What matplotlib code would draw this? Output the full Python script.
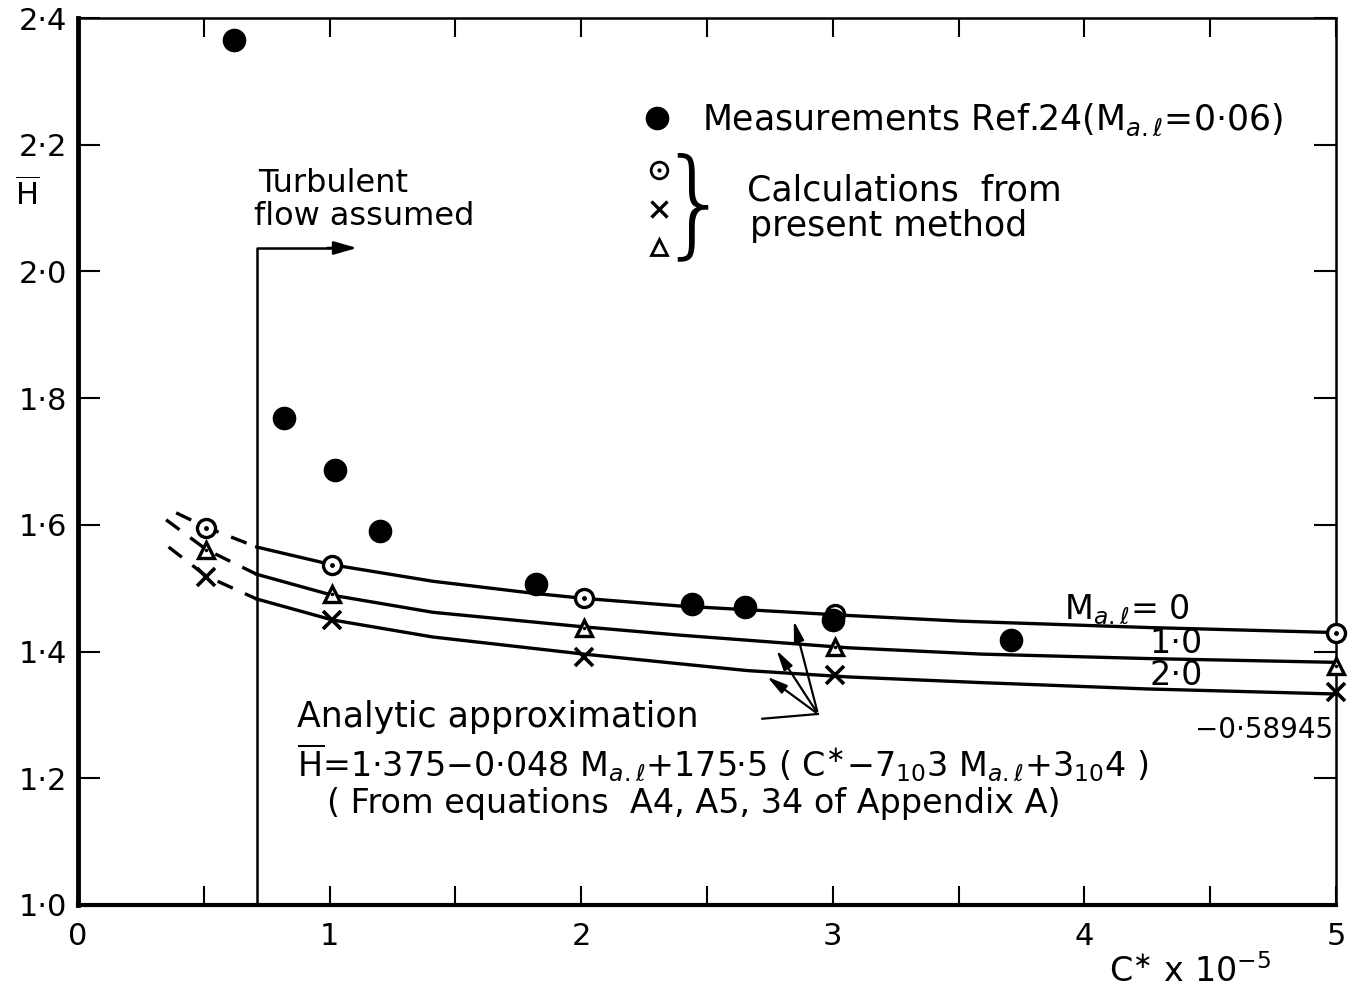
import numpy as np
import matplotlib.pyplot as plt

plt.rcParams['font.family'] = ['DejaVu Sans']
plt.rcParams['mathtext.fontset'] = 'dejavusans'

# measurements, Ref. 24
meas_c = [0.62, 0.82, 1.02, 1.20, 1.82, 2.44, 2.65, 3.00, 3.71]
meas_h = [2.365, 1.769, 1.687, 1.590, 1.507, 1.475, 1.470, 1.450, 1.418]

# calculated points (present method)
calc_c = [0.51, 1.01, 2.01, 3.01, 5.0]
calc_h0 = [1.595, 1.537, 1.485, 1.460, 1.430]   # Ma.l = 0
calc_h1 = [1.561, 1.491, 1.437, 1.407, 1.378]   # Ma.l = 1.0
calc_h2 = [1.518, 1.450, 1.392, 1.363, 1.336]   # Ma.l = 2.0

# analytic approximation curves (solid part, turbulent region)
curve_c0 = [0.71, 1.01, 1.41, 1.81, 2.01, 2.39, 2.84, 3.06, 3.51, 4.25, 5.0]
curve_h0 = [1.565, 1.537, 1.511, 1.492, 1.484, 1.472, 1.462, 1.457, 1.448, 1.438, 1.430]
curve_c1 = [0.71, 1.01, 1.41, 2.01, 2.39, 3.06, 3.59, 4.25, 5.0]
curve_h1 = [1.522, 1.489, 1.462, 1.439, 1.426, 1.406, 1.396, 1.389, 1.383]
curve_c2 = [0.71, 1.01, 1.41, 2.01, 2.66, 3.06, 3.59, 4.25, 5.0]
curve_h2 = [1.483, 1.450, 1.423, 1.396, 1.370, 1.360, 1.351, 1.341, 1.333]

# dashed extension below the transition
dash_c0 = [0.39, 0.51, 0.71]
dash_h0 = [1.619, 1.596, 1.565]
dash_c1 = [0.35, 0.51, 0.71]
dash_h1 = [1.608, 1.561, 1.522]
dash_c2 = [0.36, 0.51, 0.71]
dash_h2 = [1.565, 1.519, 1.483]

c_turb = 0.71

fig = plt.figure(figsize=(13.53, 10), dpi=100)
ax = fig.add_axes([0.0577, 0.095, 0.9297, 0.887])
ax.set_xlim(0, 5)
ax.set_ylim(1.0, 2.4)

lw = 2.4
for c, h in [(curve_c0, curve_h0), (curve_c1, curve_h1), (curve_c2, curve_h2)]:
    ax.plot(c, h, color='k', lw=lw, zorder=2)
for c, h in [(dash_c0, dash_h0), (dash_c1, dash_h1), (dash_c2, dash_h2)]:
    ax.plot(c, h, color='k', lw=lw, ls=(0, (5, 4)), zorder=2)

ax.plot(meas_c, meas_h, 'o', color='k', ms=16, zorder=4)

ax.plot(calc_c, calc_h0, 'o', mfc='white', mec='k', mew=2.4, ms=13, zorder=3, clip_on=False)
ax.plot(calc_c, calc_h0, '.', color='k', ms=5, zorder=3, clip_on=False)
ax.plot(calc_c, calc_h1, '^', mfc='white', mec='k', mew=2.4, ms=12, zorder=3, clip_on=False)
ax.plot(calc_c, calc_h1, '.', color='k', ms=3, zorder=3, clip_on=False)
ax.plot(calc_c, calc_h2, 'x', color='k', mew=2.6, ms=13, zorder=3, clip_on=False)

# turbulent flow marker
ax.plot([c_turb, c_turb, 1.0], [1.0, 2.037, 2.037], color='k', lw=1.8)
ax.annotate('', xy=(1.12, 2.037), xytext=(0.98, 2.037),
            arrowprops=dict(arrowstyle='-|>,head_length=1.4,head_width=0.4',
                            color='k', lw=1.8))
ax.text(0.715, 2.138, 'Turbulent', fontsize=23, va='center')
ax.text(0.70, 2.087, 'flow assumed', fontsize=23, va='center')

# legend block
fs = 25
ax.plot([2.30], [2.242], 'o', color='k', ms=16)
ax.text(2.48, 2.240, 'Measurements Ref.24(M$_{a.\\ell}$=0·06)', fontsize=fs, va='center')
ax.plot([2.31], [2.160], 'o', mfc='white', mec='k', mew=2, ms=12)
ax.plot([2.31], [2.160], '.', color='k', ms=4)
ax.plot([2.31], [2.098], 'x', color='k', mew=2.4, ms=11)
ax.plot([2.31], [2.038], '^', mfc='white', mec='k', mew=2, ms=11)
ax.text(2.45, 2.098, '}', fontsize=84, va='center', ha='center', fontweight='light')
ax.text(2.66, 2.128, 'Calculations  from', fontsize=fs, va='center')
ax.text(2.67, 2.071, 'present method', fontsize=fs, va='center')

# curve labels
ax.text(3.92, 1.466, 'M$_{a.\\ell}$= 0', fontsize=24, va='center')
ax.text(4.26, 1.413, '1·0', fontsize=24, va='center')
ax.text(4.26, 1.362, '2·0', fontsize=24, va='center')

# analytic approximation note
arrow = dict(arrowstyle='-|>,head_length=1.2,head_width=0.3', color='k', lw=1.6)
ax.annotate('', xy=(2.842, 1.453), xytext=(2.941, 1.3015), arrowprops=arrow)
ax.annotate('', xy=(2.770, 1.406), xytext=(2.941, 1.3015), arrowprops=arrow)
ax.annotate('', xy=(2.730, 1.363), xytext=(2.941, 1.3015), arrowprops=arrow)
ax.plot([2.72, 2.941], [1.294, 1.3015], color='k', lw=1.6)

ax.text(0.87, 1.297, 'Analytic approximation', fontsize=25, va='center')
ax.text(0.87, 1.225,
        '$\\overline{\\mathrm{H}}$=1·375−0·048 M$_{a.\\ell}$+175·5 ( C$^{\\ast}$−7$_{10}$3 M$_{a.\\ell}$+3$_{10}$4 )',
        fontsize=24, va='center')
ax.text(4.99, 1.276, '−0·58945', fontsize=20, va='center', ha='right')
ax.text(0.99, 1.160, '( From equations  A4, A5, 34 of Appendix A)', fontsize=24, va='center')

# axes styling
ax.set_xticks(np.arange(0, 5.01, 1))
ax.set_xticks(np.arange(0.5, 5, 1), minor=True)
ax.set_xticklabels([str(i) for i in range(6)])
yt = np.arange(1.0, 2.41, 0.2)
ax.set_yticks(yt)
ax.set_yticklabels(['{:.1f}'.format(v).replace('.', '·') for v in yt])
ax.tick_params(axis='both', which='both', direction='in', top=True, right=True,
               width=1.5, labelsize=22)
ax.tick_params(axis='y', length=16, pad=8)
ax.tick_params(axis='x', which='both', length=14, pad=12)
ax.spines['left'].set_linewidth(3.5)
ax.spines['bottom'].set_linewidth(3)
ax.spines['top'].set_linewidth(1.8)
ax.spines['right'].set_linewidth(1.8)

fig.text(0.02, 0.805, '$\\overline{\\mathrm{H}}$', fontsize=22, ha='center', va='center')
fig.text(0.82, 0.028, 'C$^{\\ast}$ x 10$^{-5}$', fontsize=24, ha='left', va='center')

fig.savefig('out.png', dpi=100)
